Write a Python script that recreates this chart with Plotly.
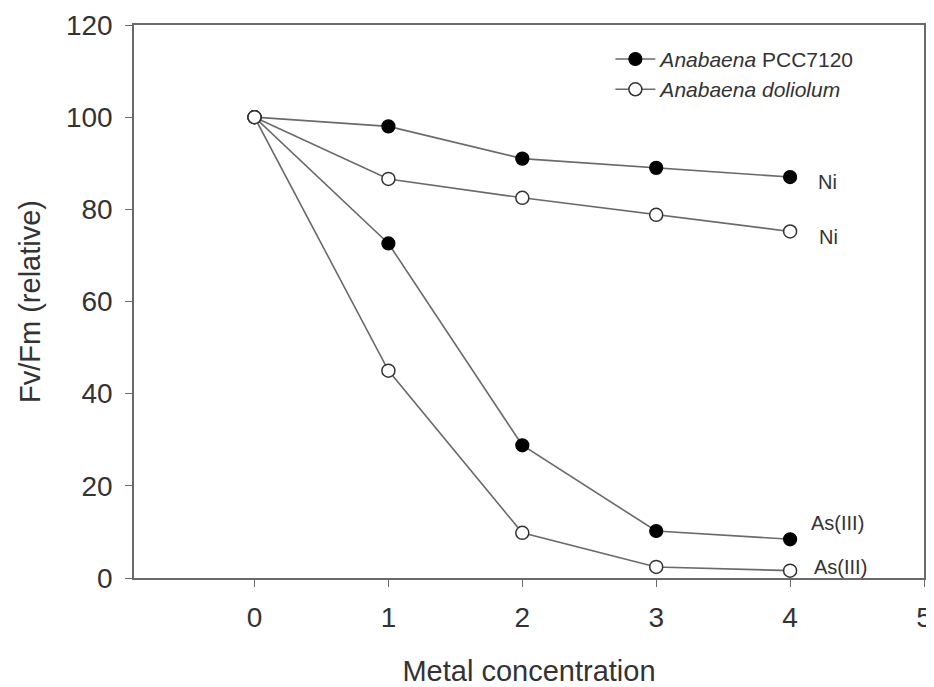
import plotly.graph_objects as go

conc = [0, 1, 2, 3, 4]
pcc_ni = [100, 98, 91, 89, 87]
dol_ni = [100, 86.6, 82.5, 78.8, 75.2]
pcc_as = [100, 72.6, 28.8, 10.2, 8.4]
dol_as = [100, 45, 9.8, 2.4, 1.6]

x_ticks = [0, 1, 2, 3, 4, 5]
y_ticks = [0, 20, 40, 60, 80, 100, 120]

labels = [
    ("Ni", 4.19, 86.0),
    ("Ni", 4.20, 73.9),
    ("As(III)", 4.14, 11.9),
    ("As(III)", 4.16, 2.4),
]

FONT = "Liberation Sans, Arial"
TXT = "#333333"
line_col = "#6a6a6a"
filled = dict(symbol="circle", size=13, color="black", line=dict(color="black", width=1.2))
opened = dict(symbol="circle", size=13, color="white", line=dict(color="#333333", width=1.5))

fig = go.Figure()
fig.add_trace(go.Scatter(x=conc, y=pcc_ni, mode="lines+markers", name="<i>Anabaena</i> PCC7120",
                         line=dict(color=line_col, width=1.6), marker=filled, legendgroup="a"))
fig.add_trace(go.Scatter(x=conc, y=pcc_as, mode="lines+markers", showlegend=False,
                         line=dict(color=line_col, width=1.6), marker=filled, legendgroup="a"))
fig.add_trace(go.Scatter(x=conc, y=dol_ni, mode="lines+markers", name="<i>Anabaena doliolum</i>",
                         line=dict(color=line_col, width=1.6), marker=opened, legendgroup="b"))
fig.add_trace(go.Scatter(x=conc, y=dol_as, mode="lines+markers", showlegend=False,
                         line=dict(color=line_col, width=1.6), marker=opened, legendgroup="b"))

for txt, xx, yy in labels:
    fig.add_annotation(x=xx, y=yy, text=txt, showarrow=False, xanchor="left", yanchor="middle",
                       font=dict(family=FONT, size=20, color=TXT))

axis_common = dict(showline=True, linecolor="#6a6a6a", linewidth=1.6, mirror=True,
                   ticks="outside", tickcolor="#6a6a6a", tickwidth=1.4, ticklen=7,
                   showgrid=False, zeroline=False, automargin=False,
                   tickfont=dict(family=FONT, size=28, color=TXT))

fig.update_xaxes(range=[-0.9, 5], tickvals=x_ticks, ticktext=[str(v) for v in x_ticks],
                 ticklabelstandoff=7,
                 title=dict(text="Metal concentration", standoff=31,
                            font=dict(family=FONT, size=29, color=TXT)),
                 **axis_common)
fig.update_yaxes(range=[0, 120], tickvals=y_ticks, ticktext=[str(v) for v in y_ticks],
                 ticklabelstandoff=7,
                 title=dict(text="Fv/Fm (relative)", standoff=17,
                            font=dict(family=FONT, size=29, color=TXT)),
                 **axis_common)

fig.update_layout(
    width=934, height=679,
    margin=dict(l=126, r=18, t=17, b=109, autoexpand=False),
    paper_bgcolor="white", plot_bgcolor="white",
    legend=dict(x=0.603, y=0.975, xanchor="left", yanchor="top", bgcolor="rgba(0,0,0,0)",
                font=dict(family=FONT, size=21, color=TXT),
                itemwidth=40, tracegroupgap=0),
    showlegend=True,
)

fig.write_html("out.html")
